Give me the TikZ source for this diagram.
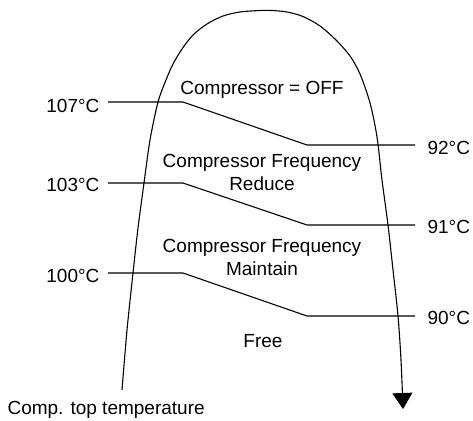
\documentclass[tikz,border=0pt]{standalone}
\usepackage{fontspec}
\setmainfont{Liberation Sans}
\usetikzlibrary{arrows.meta}

\begin{document}
\begin{tikzpicture}[x=1pt, y=-1pt, >={Triangle[width=20pt,length=16pt]}, line width=1.1pt,
  lbl/.style={font=\fontsize{19}{22.5}\selectfont, inner sep=0pt}]
  \useasboundingbox (0,0) rectangle (473,420);

  % temperature curve
  \draw[->] plot[smooth, tension=0.5] coordinates {(122,390) (127,330) (133,273) (138,228)
    (144,183) (150,140) (158,102) (166,80) (173,64) (182,49) (193,35) (207,24) (223,16)
    (240,12) (260,10.5) (272,10.5) (287,12) (303,16.5) (320,26) (336,40) (350,56) (360,74)
    (370,103) (377,137) (382,180) (388,225) (393,270) (398,316) (401,360) (403,409)};

  % thresholds
  \coordinate (a107) at (108,102); \coordinate (b107) at (183,102);
  \coordinate (c92) at (307,145);  \coordinate (d92) at (415,145);
  \coordinate (a103) at (108,183); \coordinate (b103) at (183,183);
  \coordinate (c91) at (307,225);  \coordinate (d91) at (415,225);
  \coordinate (a100) at (108,273); \coordinate (b100) at (183,273);
  \coordinate (c90) at (307,316);  \coordinate (d90) at (415,316);
  \draw (a107) -- (b107) -- (c92) -- (d92);
  \draw (a103) -- (b103) -- (c91) -- (d91);
  \draw (a100) -- (b100) -- (c90) -- (d90);

  \node[lbl, anchor=base east] (t107) at (100,112) {107°C};
  \node[lbl, anchor=base east] (t103) at (100,191) {103°C};
  \node[lbl, anchor=base east] (t100) at (100,282) {100°C};
  \node[lbl, anchor=base west] (t92) at (427,154) {92°C};
  \node[lbl, anchor=base west] (t91) at (427,233) {91°C};
  \node[lbl, anchor=base west] (t90) at (427,324) {90°C};

  % regions
  \node[lbl, anchor=base] (off) at (262,94) {Compressor = OFF};
  \node[lbl, anchor=base, align=center] (reduce) at (262,190) {Compressor Frequency\\Reduce};
  \node[lbl, anchor=base, align=center] (maintain) at (262,275) {Compressor Frequency\\Maintain};
  \node[lbl, anchor=base] (free) at (263,347) {Free};

  \node[lbl, anchor=base west] (axis) at (7,414) {Comp. top temperature};
\end{tikzpicture}
\end{document}
